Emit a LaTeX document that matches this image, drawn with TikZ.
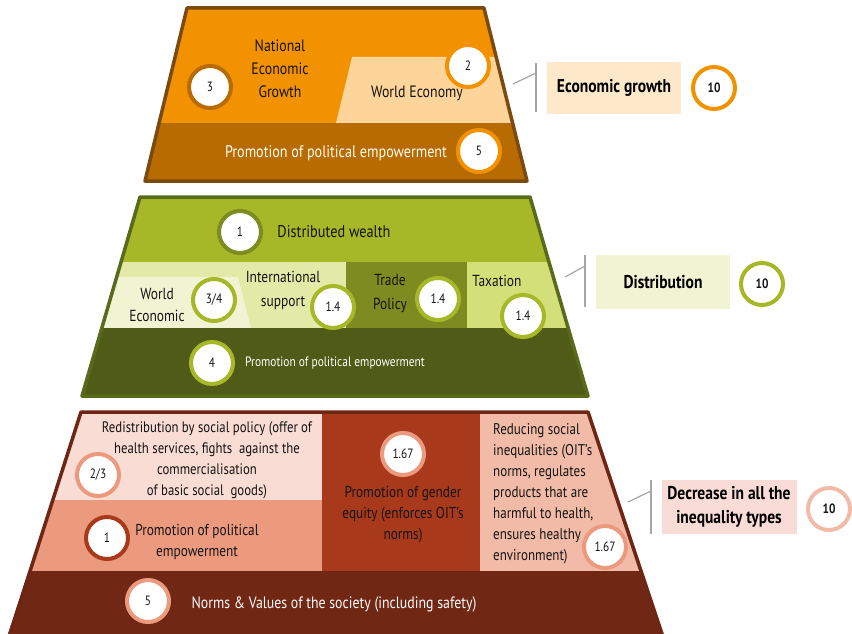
\documentclass[tikz,border=0pt]{standalone}
\usepackage{fontspec}
\setmainfont{PT Sans}[FakeStretch=0.84]
\definecolor{tOr}{HTML}{F39200}
\definecolor{tDk}{HTML}{B86B00}
\definecolor{tLt}{HTML}{FDD49A}
\definecolor{tBd}{HTML}{7A4A10}
\definecolor{tBox}{HTML}{FDE9C9}
\definecolor{mGr}{HTML}{A6B828}
\definecolor{mLt}{HTML}{E3EAA7}
\definecolor{mPl}{HTML}{F0F4D3}
\definecolor{mTr}{HTML}{7D8B20}
\definecolor{mTx}{HTML}{D3E07A}
\definecolor{mDk}{HTML}{4F5B16}
\definecolor{mBd}{HTML}{5A6A1C}
\definecolor{mBox}{HTML}{F0F4D2}
\definecolor{bPl}{HTML}{F9DCD3}
\definecolor{bSa}{HTML}{EC9A7E}
\definecolor{bMd}{HTML}{A8391A}
\definecolor{bRt}{HTML}{F2BBA7}
\definecolor{bDk}{HTML}{702714}
\definecolor{bBd}{HTML}{6E2614}
\definecolor{bBox}{HTML}{F9DCD5}
\definecolor{txt}{HTML}{141414}
\begin{document}
\begin{tikzpicture}[x=1pt,y=-1pt,
  num/.style={circle,fill=white,draw=#1,line width=4pt,minimum size=42pt,inner sep=0pt,
    font=\fontsize{13.5}{13.5}\selectfont,text=txt},
  lbl/.style={align=center,inner sep=0pt,font=\fontsize{16.5}{23}\selectfont,text=txt},
  lbll/.style={align=left,inner sep=0pt,font=\fontsize{15}{21}\selectfont,text=txt},
  sumbox/.style={fill=#1,minimum width=134pt,minimum height=51pt,inner sep=0pt,align=center,
    font=\bfseries\fontsize{18.5}{24}\selectfont,text=black},
  brk/.style={draw=gray!70,line width=1.2pt}]
\useasboundingbox (0,0) rectangle (852,634);

% ---------- top trapezoid ----------
\begin{scope}
\clip (187,8) -- (484,8) -- (527,181) -- (145,181) -- cycle;
\fill[tOr] (0,0) rectangle (852,181);
\fill[tLt] (352,57) -- (620,57) -- (620,123) -- (336,123) -- cycle;
\fill[tDk] (0,123) rectangle (852,190);
\end{scope}
\draw[tBd,line width=3.5pt,line join=round] (187,8) -- (484,8) -- (527,181) -- (145,181) -- cycle;

\node[lbl] (neg) at (280,69) {National\\Economic\\Growth};
\node[lbl] (we) at (417,93) {World Economy};
\node[lbl,text=white!92!tLt,font=\fontsize{16.8}{23}\selectfont] (ppe1) at (336,153) {Promotion of political empowerment};
\node[num=tDk] (c3) at (210,87) {3};
\node[num=tOr] (c2) at (468,66) {2};
\node[num=tOr] (c5) at (479,151) {5};

\coordinate (t1) at (513,84);
\coordinate (t2) at (536,73);
\coordinate (t3) at (536,63);
\coordinate (t4) at (536,112);
\draw[brk] (t1) -- (t2);
\draw[brk] (t3) -- (t4);
\node[sumbox=tBox] (eg) at (614,88) {Economic growth};
\node[num=tOr,font=\bfseries\fontsize{13.5}{13.5}\selectfont] (c10a) at (714,88) {10};

% ---------- middle trapezoid ----------
\begin{scope}
\clip (140,197) -- (530,197) -- (588,396) -- (82,396) -- cycle;
\fill[mGr] (0,190) rectangle (852,262);
\fill[mLt] (0,262) rectangle (346,328);
\fill[mPl] (0,277) -- (238,277) -- (251,328) -- (0,328) -- cycle;
\fill[mTr] (346,262) rectangle (467,328);
\fill[mTx] (467,262) rectangle (852,328);
\fill[mDk] (0,328) rectangle (852,400);
\end{scope}
\draw[mBd,line width=3.5pt,line join=round] (140,197) -- (530,197) -- (588,396) -- (82,396) -- cycle;

\node[lbl,font=\fontsize{17}{23}\selectfont] (dw) at (334,232) {Distributed wealth};
\node[lbl,font=\fontsize{16}{22}\selectfont] (wec) at (157,305) {World\\Economic};
\node[lbl,font=\fontsize{16}{24}\selectfont] (is) at (283,290) {International\\support};
\node[lbl,font=\fontsize{16}{24}\selectfont] (tp) at (390,294) {Trade\\Policy};
\node[lbl,font=\fontsize{16}{22}\selectfont] (tax) at (497,281) {Taxation};
\node[lbl,text=white,font=\fontsize{13.6}{14}\selectfont] (ppe2) at (335,363) {Promotion of political empowerment};
\node[num=mTr] (m1) at (240,232) {1};
\node[num=mGr] (m34) at (214,300) {3/4};
\node[num=mGr] (m14a) at (333,307) {1.4};
\node[num=mGr] (m14b) at (438,299) {1.4};
\node[num=mGr] (m14c) at (523,316) {1.4};
\node[num=mGr] (m4) at (212,363) {4};

\coordinate (d1) at (565,277);
\coordinate (d2) at (585,266);
\coordinate (d3) at (585,255);
\coordinate (d4) at (585,307);
\draw[brk] (d1) -- (d2);
\draw[brk] (d3) -- (d4);
\node[sumbox=mBox,minimum height=54pt] (dist) at (663,282) {Distribution};
\node[num=mGr,font=\bfseries\fontsize{13.5}{13.5}\selectfont] (c10b) at (762,284) {10};

% ---------- bottom trapezoid ----------
\begin{scope}
\clip (81,412) -- (588,412) -- (662,634) -- (8,634) -- cycle;
\fill[bPl] (0,405) rectangle (322,500);
\fill[bSa] (0,500) rectangle (322,571);
\fill[bMd] (322,405) rectangle (480,571);
\fill[bRt] (480,405) rectangle (852,571);
\fill[bDk] (0,571) rectangle (852,640);
\end{scope}
\draw[bBd,line width=3.5pt,line join=round] (8,640) -- (81,412) -- (588,412) -- (664,640);

\node[lbl,font=\fontsize{15.2}{21}\selectfont] (red) at (207,460)
  {Redistribution by social policy (offer of\\health services, fights \ against the\\commercialisation\\of basic social \ goods)};
\node[lbl,font=\fontsize{15.8}{21}\selectfont] (ppe3) at (197,542) {Promotion of political\\empowerment};
\node[lbl,font=\fontsize{15.8}{21}\selectfont] (ge) at (403,515) {Promotion of gender\\equity (enforces OIT’s\\norms)};
\node[lbll,font=\fontsize{15.5}{21}\selectfont,anchor=north west] (rsi) at (493,423)
  {Reducing social\\inequalities (OIT’s\\norms, regulates\\products that are\\harmful to health,\\ensures healthy\\environment)};
\node[lbl,text=white!90!bPl,font=\fontsize{16.5}{21}\selectfont] (nv) at (334,604) {Norms \& Values of the society (including safety)};
\node[num=bSa] (b23) at (98,475) {2/3};
\node[num=bMd] (b1) at (107,538) {1};
\node[num=bSa] (b167a) at (403,454) {1.67};
\node[num=bSa] (b167b) at (605,547) {1.67};
\node[num=bSa] (b5) at (148,601) {5};

\coordinate (b1c) at (628,502);
\coordinate (b2c) at (651,491);
\coordinate (b3c) at (651,480);
\coordinate (b4c) at (651,534);
\draw[brk] (b1c) -- (b2c);
\draw[brk] (b3c) -- (b4c);
\node[sumbox=bBox,minimum width=135pt,minimum height=54pt] (dec) at (729,507) {Decrease in all the\\inequality types};
\node[num=bRt,font=\bfseries\fontsize{13.5}{13.5}\selectfont] (c10c) at (829,509) {10};
\end{tikzpicture}
\end{document}
